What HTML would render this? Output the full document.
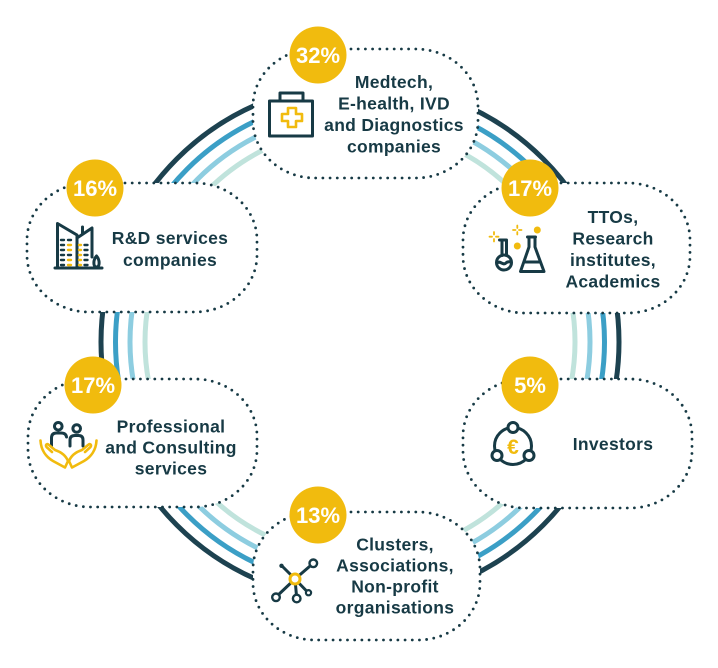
<!DOCTYPE html>
<html><head><meta charset="utf-8">
<style>
html,body{margin:0;padding:0;background:#fff;}
svg{display:block;}
.t{font-family:"Liberation Sans",sans-serif;font-weight:bold;fill:#173a45;font-size:17.5px;letter-spacing:0.3px;text-anchor:middle;}
.b{font-family:"Liberation Sans",sans-serif;font-weight:bold;fill:#fff;font-size:22px;text-anchor:middle;}
.node{fill:#fff;stroke:#173a45;stroke-width:2.8;stroke-dasharray:0 7.2;stroke-linecap:round;}
.ic{fill:none;stroke:#173a45;stroke-width:3;stroke-linecap:round;stroke-linejoin:round;}
.iy{fill:none;stroke:#f1bb0e;stroke-width:2.6;stroke-linecap:round;stroke-linejoin:round;}
.bd{fill:#f1bb0e;}
</style></head><body>
<svg width="718" height="668" viewBox="0 0 718 668">
<!-- rings -->
<g fill="none" stroke-width="5">
<circle cx="360" cy="342" r="259" stroke="#1d4250"/>
<circle cx="360" cy="342" r="244.5" stroke="#3b9fc6"/>
<circle cx="360" cy="342" r="230" stroke="#8dcde0"/>
<circle cx="360" cy="342" r="215" stroke="#c0e3dc"/>
</g>

<!-- nodes -->
<rect class="node" x="253" y="49" width="225" height="129" rx="62" ry="57"/>
<rect class="node" x="27" y="183" width="230" height="129" rx="62" ry="57"/>
<rect class="node" x="463" y="183" width="227" height="130" rx="62" ry="57"/>
<rect class="node" x="28" y="379" width="229" height="128" rx="62" ry="57"/>
<rect class="node" x="463" y="379" width="229" height="129" rx="62" ry="57"/>
<rect class="node" x="253" y="512" width="227" height="128" rx="62" ry="57"/>

<!-- badges -->
<circle class="bd" cx="318" cy="55" r="28.5"/><text class="b" x="318" y="63">32%</text>
<circle class="bd" cx="95" cy="188" r="28.5"/><text class="b" x="95" y="196">16%</text>
<circle class="bd" cx="530" cy="188" r="28.5"/><text class="b" x="530" y="196">17%</text>
<circle class="bd" cx="93" cy="385" r="28.5"/><text class="b" x="93" y="393">17%</text>
<circle class="bd" cx="530" cy="385" r="28.5"/><text class="b" x="530" y="393">5%</text>
<circle class="bd" cx="318" cy="515" r="28.5"/><text class="b" x="318" y="523">13%</text>

<!-- texts -->
<text class="t" x="394" y="88">Medtech,</text>
<text class="t" x="394" y="109.5">E-health, IVD</text>
<text class="t" x="394" y="131">and Diagnostics</text>
<text class="t" x="394" y="152.5">companies</text>

<text class="t" x="170" y="244">R&amp;D services</text>
<text class="t" x="170" y="266">companies</text>

<text class="t" x="613" y="223">TTOs,</text>
<text class="t" x="613" y="244.5">Research</text>
<text class="t" x="613" y="266">institutes,</text>
<text class="t" x="613" y="287.5">Academics</text>

<text class="t" x="171" y="432.5">Professional</text>
<text class="t" x="171" y="453.5">and Consulting</text>
<text class="t" x="171" y="474.5">services</text>

<text class="t" x="613" y="450">Investors</text>

<text class="t" x="395" y="550.5">Clusters,</text>
<text class="t" x="395" y="571.5">Associations,</text>
<text class="t" x="395" y="592.5">Non-profit</text>
<text class="t" x="395" y="613.5">organisations</text>

<!-- icon: medkit -->
<rect class="ic" x="269.5" y="101" width="43" height="35" stroke-width="3.2"/>
<path class="ic" d="M280 101 V93 H303 V101" stroke-width="3.2"/>
<path class="iy" d="M288 108 H296 V114 H302 V121 H296 V127 H288 V121 H282 V114 H288 Z"/>

<!-- icon: buildings -->
<path class="ic" stroke-width="2.6" d="M55 268 H102"/>
<path class="ic" stroke-width="2.6" d="M57.5 268 V223.5 L77 235 V268"/>
<path class="ic" stroke-width="2.6" d="M77 238 L92 228 V257"/>
<path class="ic" stroke-width="2.2" d="M82.5 234 V227"/>
<path class="ic" stroke-width="2.2" d="M96.5 256 C93 260 93 267 96.5 267 C100 267 100 260 96.5 256 Z"/>
<g stroke-width="2.4" stroke-linecap="round">
<path stroke="#173a45" d="M61 240 H64 M61 245 H64 M61 250 H64 M61 255 H64 M61 260 H64 M61 265 H64"/>
<path stroke="#173a45" d="M68 240 H71 M68 255 H71"/>
<path stroke="#f1bb0e" d="M68 245 H71 M68 250 H71 M68 260 H71 M68 265 H71"/>
<path stroke="#f1bb0e" d="M79 245 H81 M79 250 H81 M79 255 H81 M79 260 H81 M79 265 H81"/>
<path stroke="#173a45" d="M84.5 245 H87.5 M84.5 250 H87.5 M84.5 255 H87.5 M84.5 260 H87.5 M84.5 265 H87.5"/>
</g>

<!-- icon: flasks -->
<path class="ic" stroke-width="2.6" d="M499.5 240 H506.5 M502 240 V255.5 M506.5 240 V255.5"/>
<circle class="ic" stroke-width="2.6" cx="504" cy="262.5" r="7.5"/>
<path class="ic" stroke-width="2" d="M497 263 C500 260 503 266 506 263 C508 261 510 262 511 262"/>
<path class="ic" stroke-width="2.6" d="M527.5 237 H535.5 M529 237 V247 L520.5 271.5 H544 L535 247 V237"/>
<path class="ic" stroke-width="2" d="M525.5 262 H539"/>
<g stroke="#f1bb0e" stroke-width="1.8" stroke-linecap="round">
<path d="M494 232 V234.5 M494 239 V241.5 M489.5 236.7 H492 M496 236.7 H498.5"/>
<path d="M517.3 225.5 V228 M517.3 232 V234.5 M513 230 H515.5 M519 230 H521.5"/>
</g>
<circle cx="537.3" cy="230" r="3.5" fill="#f1bb0e"/>
<circle cx="517.3" cy="246" r="3.5" fill="#f1bb0e"/>

<!-- icon: people with hands -->
<circle class="ic" stroke-width="2.6" cx="58.3" cy="426.3" r="3.8"/>
<path class="ic" stroke-width="2.6" d="M51.5 446 V438 Q51.5 433 56.5 433 H61 Q66 433 66.5 437"/>
<circle class="ic" stroke-width="2.6" cx="76.7" cy="428.5" r="3.8"/>
<path class="ic" stroke-width="2.6" d="M70 446 V440 Q70 435.5 75 435.5 H78.5 Q83 435.5 83 440 V446"/>
<g>
<path class="iy" stroke-width="2.6" d="M40.5 440.5 C41 450 46 457 53 461 L65 467.5 L68 461 C66 456 61 452 55 450 L49 445 C47 443 45 445 46.5 447 L52 452"/>
</g>
<g transform="translate(137,0) scale(-1,1)">
<path class="iy" stroke-width="2.6" d="M40.5 440.5 C41 450 46 457 53 461 L65 467.5 L68 461 C66 456 61 452 55 450 L49 445 C47 443 45 445 46.5 447 L52 452"/>
</g>

<!-- icon: investors -->
<circle class="ic" stroke-width="3" cx="513" cy="446" r="18.5"/>
<circle cx="513" cy="427.5" r="5" fill="#fff" stroke="#173a45" stroke-width="3"/>
<circle cx="497" cy="455.5" r="5" fill="#fff" stroke="#173a45" stroke-width="3"/>
<circle cx="529" cy="455.5" r="5" fill="#fff" stroke="#173a45" stroke-width="3"/>
<text x="513" y="454" fill="#f1bb0e" font-family="Liberation Sans, sans-serif" font-weight="bold" font-size="21" text-anchor="middle">€</text>

<!-- icon: clusters -->
<path class="ic" stroke-width="2.4" d="M295 579 L313 563.5 M295 579 L282 566 M295 579 L276 597 M295 579 L296.7 598 M295 579 L308 592.5"/>
<circle cx="313.3" cy="563.3" r="3.8" fill="#fff" stroke="#173a45" stroke-width="2.4"/>
<circle cx="281.5" cy="565.8" r="2.2" fill="#173a45"/>
<circle cx="276" cy="597.3" r="3.8" fill="#fff" stroke="#173a45" stroke-width="2.4"/>
<circle cx="296.7" cy="598.5" r="3.8" fill="#fff" stroke="#173a45" stroke-width="2.4"/>
<circle cx="308.5" cy="592.7" r="2.6" fill="#fff" stroke="#173a45" stroke-width="2.2"/>
<circle cx="295" cy="579" r="5" fill="#fff" stroke="#f1bb0e" stroke-width="3"/>
</svg>
</body></html>
